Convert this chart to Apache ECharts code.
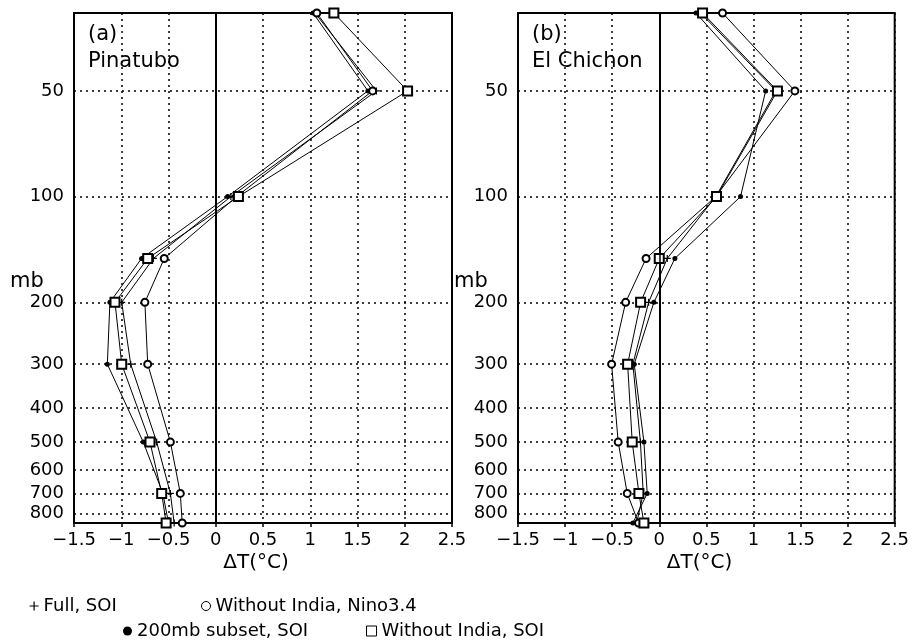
<!DOCTYPE html>
<html>
<head>
<meta charset="utf-8">
<script src="https://cdn.jsdelivr.net/npm/echarts@6/dist/echarts.min.js"></script>
<style>html,body{margin:0;padding:0;background:#fff;}#c{width:912px;height:643px;}</style>
</head>
<body>
<div id="c"></div>
<script>
// Pressure levels (mb) of the profiles
const levels = [30, 50, 100, 150, 200, 300, 500, 700, 850];
// Pressure tick labels
const pressureTicks = [50, 100, 200, 300, 400, 500, 600, 700, 800];
// Series names
const seriesNames = ['Full, SOI', '200mb subset, SOI', 'Without India, Nino3.4', 'Without India, SOI'];
// Panel titles
const panelTitles = [['(a)', 'Pinatubo'], ['(b)', 'El Chichon']];

// (a) Pinatubo, ΔT (°C)
const fullA    = [1.05, 1.70, 0.16, -0.66, -0.995, -0.90, -0.625, -0.48, -0.44];
const sub200A  = [1.03, 1.61, 0.125, -0.785, -1.12, -1.147, -0.767, -0.56, -0.50];
const woNinoA  = [1.07, 1.66, 0.22, -0.545, -0.75, -0.72, -0.48, -0.375, -0.355];
const woSoiA   = [1.25, 2.03, 0.24, -0.72, -1.066, -0.995, -0.696, -0.572, -0.525];

// (b) El Chichon, ΔT (°C)
const fullB    = [0.44, 1.24, 0.60, 0.085, -0.113, -0.28, -0.20, -0.17, -0.24];
const sub200B  = [0.39, 1.13, 0.863, 0.166, -0.057, -0.266, -0.163, -0.128, -0.28];
const woNinoB  = [0.672, 1.44, 0.60, -0.14, -0.357, -0.506, -0.436, -0.34, -0.22];
const woSoiB   = [0.46, 1.255, 0.608, 0.0, -0.198, -0.336, -0.287, -0.216, -0.163];

const panels = [[fullA, sub200A, woNinoA, woSoiA], [fullB, sub200B, woNinoB, woSoiB]];

const FONT = 'DejaVu Sans';
const PLUS = 'path://M0,5L10,5M5,0L5,10';
const symbolDefs = [
  {symbol: PLUS, size: 7, itemStyle: {color: '#000', borderColor: '#000', borderWidth: 1.2}},
  {symbol: 'circle', size: 5, itemStyle: {color: '#000', borderColor: '#000', borderWidth: 0}},
  {symbol: 'emptyCircle', size: 7, itemStyle: {color: '#000', borderColor: '#000', borderWidth: 1}},
  {symbol: 'emptyRect', size: 9, itemStyle: {color: '#000', borderColor: '#000', borderWidth: 1}}
];
const drawOrder = [1, 0, 2, 3];

const grids = [
  {left: 74, top: 13, width: 378, height: 510},
  {left: 518, top: 13, width: 377, height: 510}
];

const fmtX = v => (v < 0 ? '\u2212' + String(-v) : String(v));
const dotted = {color: '#000', type: [2, 4], width: 1.5};

const option = {
  backgroundColor: '#fff',
  animation: false,
  grid: grids.map(g => Object.assign({show: true, borderColor: '#000', borderWidth: 2, backgroundColor: 'transparent'}, g)),
  xAxis: grids.map((g, i) => ({
    gridIndex: i, type: 'value', min: -1.5, max: 2.5, interval: 0.5,
    axisLine: {show: true, onZero: false, lineStyle: {color: '#000', width: 2}},
    axisTick: {show: true, length: 4, lineStyle: {color: '#000', width: 1.5}},
    axisLabel: {color: '#000', fontSize: 18, fontFamily: FONT, margin: 8, formatter: fmtX},
    splitLine: {show: true, lineStyle: dotted}
  })),
  yAxis: grids.map((g, i) => ({
    gridIndex: i, type: 'log', logBase: 10, inverse: true, min: 30, max: 850,
    axisLine: {show: true, lineStyle: {color: '#000', width: 2}},
    axisTick: {show: false, customValues: pressureTicks},
    axisLabel: {color: '#000', fontSize: 18, fontFamily: FONT, margin: 10, customValues: pressureTicks},
    splitLine: {show: true, lineStyle: dotted},
    minorTick: {show: false}, minorSplitLine: {show: false}
  })),
  legend: [
    {idx: 0, left: 29, top: 597},
    {idx: 2, left: 201, top: 597},
    {idx: 1, left: 123, top: 622},
    {idx: 3, left: 366, top: 622}
  ].map(l => {
    const d = symbolDefs[l.idx];
    const isRect = l.idx === 3, isEmptyC = l.idx === 2;
    return {
      left: l.left, top: l.top, padding: 0, itemWidth: isRect ? 10 : 9, itemHeight: isRect ? 10 : 9,
      data: [{name: seriesNames[l.idx], icon: isRect ? 'rect' : (isEmptyC ? 'circle' : d.symbol)}],
      itemStyle: isRect || isEmptyC ? {color: '#fff', borderColor: '#000', borderWidth: 1}
                                    : (l.idx === 1 ? {color: '#000', borderWidth: 0} : {color: '#000', borderColor: '#000', borderWidth: 1.2}),
      textStyle: {color: '#000', fontSize: 18, fontFamily: FONT},
      selectedMode: false
    };
  }),
  series: [],
  graphic: []
};

panels.forEach((vals, p) => {
  drawOrder.forEach(k => {
    const d = symbolDefs[k];
    const s = {
      name: seriesNames[k], type: 'line', xAxisIndex: p, yAxisIndex: p,
      data: levels.map((lev, i) => [vals[k][i], lev]),
      symbol: d.symbol, symbolSize: d.size, showAllSymbol: true,
      itemStyle: d.itemStyle,
      lineStyle: {color: '#000', width: 1},
      emphasis: {disabled: true}, silent: true
    };
    if (k === 1) {
      s.markLine = {silent: true, symbol: 'none', label: {show: false},
        lineStyle: {color: '#000', type: 'solid', width: 1.5}, data: [{xAxis: 0}]};
    }
    option.series.push(s);
  });
  const gx = grids[p].left;
  option.graphic.push(
    {type: 'text', x: gx + 14, y: 35, style: {text: panelTitles[p][0], font: '21px "' + FONT + '"', fill: '#000', verticalAlign: 'middle'}},
    {type: 'text', x: gx + 14, y: 62, style: {text: panelTitles[p][1], font: '21px "' + FONT + '"', fill: '#000', verticalAlign: 'middle'}},
    {type: 'text', x: gx - 64, y: 282, style: {text: 'mb', font: '21px "' + FONT + '"', fill: '#000', verticalAlign: 'middle'}},
    {type: 'text', x: gx + grids[p].width / 2 - 7, y: 563, style: {text: '\u0394T(\u00b0C)', font: '20px "' + FONT + '"', fill: '#000', align: 'center', verticalAlign: 'middle'}}
  );
});

const chart = echarts.init(document.getElementById('c'), null, {renderer: 'canvas'});
chart.setOption(option);
</script>
</body>
</html>
